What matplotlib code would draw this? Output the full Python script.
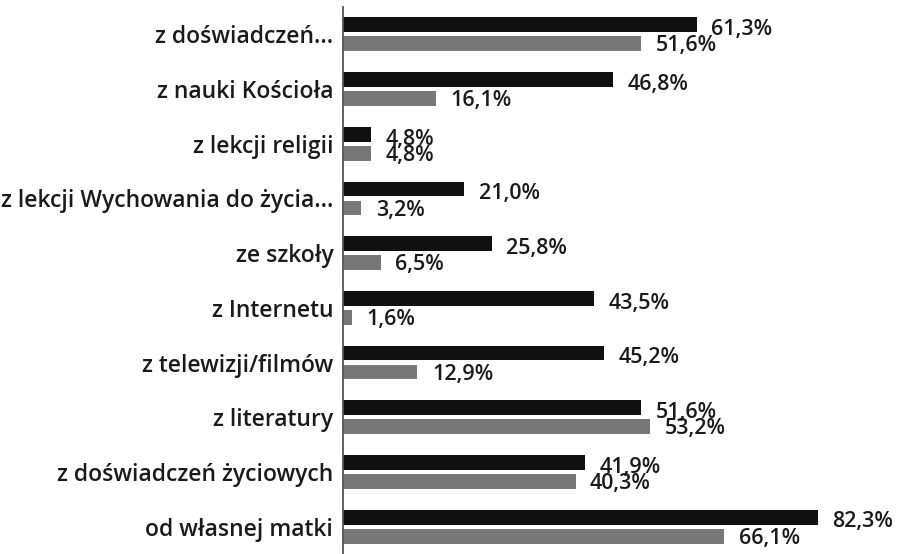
import matplotlib.pyplot as plt
import numpy as np

plt.rcParams["font.family"] = ["Open Sans", "DejaVu Sans"]

categories = [
    "z doświadczeń...",
    "z nauki Kościoła",
    "z lekcji religii",
    "z lekcji Wychowania do życia...",
    "ze szkoły",
    "z Internetu",
    "z telewizji/filmów",
    "z literatury",
    "z doświadczeń życiowych",
    "od własnej matki",
]
series_black = [61.3, 46.8, 4.8, 21.0, 25.8, 43.5, 45.2, 51.6, 41.9, 82.3]
series_gray = [51.6, 16.1, 4.8, 3.2, 6.5, 1.6, 12.9, 53.2, 40.3, 66.1]


def fmt(v):
    return f"{v:.1f}%".replace(".", ",")


fig = plt.figure(figsize=(8.98, 5.54), dpi=100)
ax = fig.add_axes([343 / 898, 0.0, 555 / 898, 547 / 554])

y = np.arange(len(categories))
h = 0.27
off = 0.174
ax.barh(y - off, series_black, height=h, color="#101010")
ax.barh(y + off, series_gray, height=h, color="#777777")

# overlapping labels (4,8% / 51,6% etc.) overlap in the original too
txt = dict(ha="left", va="center", fontsize=15.5, fontweight="semibold", color="#1a1a1a")
for yi, vb, vg in zip(y, series_black, series_gray):
    ax.annotate(fmt(vb), (vb, yi - off), xytext=(10.5, -3.5), textcoords="offset points", **txt)
    ax.annotate(fmt(vg), (vg, yi + off), xytext=(10.5, -1.5), textcoords="offset points", **txt)

ax.set_xlim(0, 555 / 5.77)
ax.set_ylim(len(categories) - 0.5, -0.5)
ax.set_yticks(y)
ax.set_yticklabels(categories, fontsize=16.5, fontweight="semibold", color="#1a1a1a")
ax.tick_params(axis="y", length=0, pad=7)
ax.set_xticks([])
for side in ["top", "right", "bottom"]:
    ax.spines[side].set_visible(False)
ax.spines["left"].set_color("#555555")
ax.spines["left"].set_linewidth(1.3)

fig.savefig("out.png", dpi=100)
